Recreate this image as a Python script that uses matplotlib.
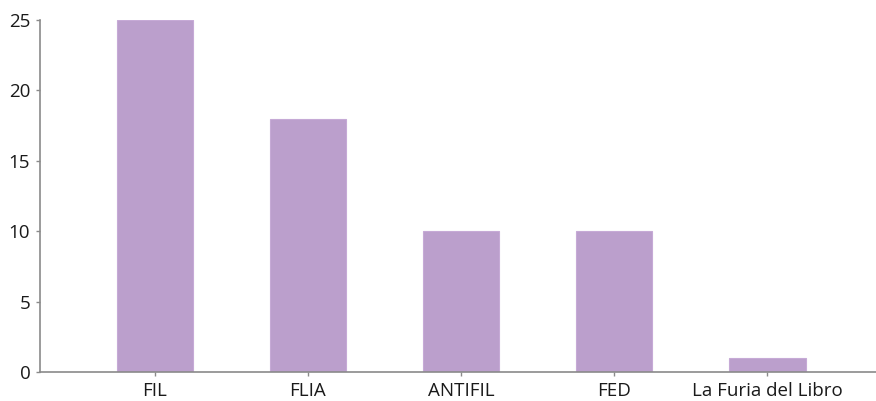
import matplotlib
matplotlib.use('Agg')
from matplotlib import pyplot as plt

categories = ['FIL', 'FLIA', 'ANTIFIL', 'FED', 'La Furia del Libro']
values = [25, 18, 10, 10, 1]
yticks = [0, 5, 10, 15, 20, 25]

plt.rcParams['font.family'] = ['Open Sans', 'DejaVu Sans']

fig = plt.figure(figsize=(8.76, 4.01), dpi=100)
ax = fig.add_axes([40 / 876, 29 / 401, 836 / 876, 352 / 401])

x = range(len(categories))
ax.bar(x, values, width=0.5, color='#bb9fcc', edgecolor='#c6aad6', linewidth=0.8)

ax.set_xlim(-0.75, 4.71)
ax.set_ylim(0, 25)
ax.set_xticks(list(x))
ax.set_xticklabels(categories)
ax.set_yticks(yticks)

for side in ['top', 'right']:
    ax.spines[side].set_visible(False)
for side in ['left', 'bottom']:
    ax.spines[side].set_color('#8a8a8a')
    ax.spines[side].set_linewidth(1.2)

ax.tick_params(axis='both', colors='#8a8a8a', length=3, width=1, labelsize=13.5,
               labelcolor='#1a1a1a')
ax.tick_params(axis='x', pad=4)
ax.tick_params(axis='y', pad=4)

fig.savefig('out.png', dpi=100)
